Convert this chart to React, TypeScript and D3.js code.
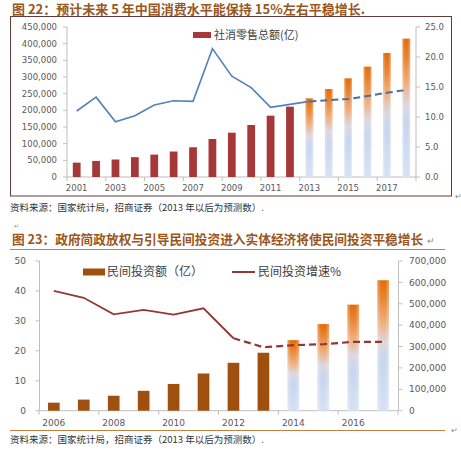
import React from "react";
import * as d3 from "d3";

// ---------- Chart 1 data ----------
const years1 = ["2001","2002","2003","2004","2005","2006","2007","2008","2009","2010","2011","2012","2013","2014","2015","2016","2017","2018"];
const retailSales = [43055, 48136, 52516, 59501, 67177, 76410, 89210, 114000, 133000, 156000, 184000, 211000, 236000, 264000, 296000, 331000, 372000, 415000];
const retailGrowth = [11.0, 13.3, 9.2, 10.2, 12.0, 12.7, 12.6, 21.4, 16.8, 14.9, 11.6, 12.1, 12.6, 12.8, 13.0, 13.5, 14.05, 14.5];
const forecastIdx1 = 12; // 2013 onwards forecast
const leftTicks1 = [0, 50000, 100000, 150000, 200000, 250000, 300000, 350000, 400000, 450000];
const rightTicks1 = [0, 5, 10, 15, 20, 25];
const xLabels1 = ["2001","2003","2005","2007","2009","2011","2013","2015","2017"];

// ---------- Chart 2 data ----------
const years2 = ["2006","2007","2008","2009","2010","2011","2012","2013","2014","2015","2016","2017"];
const privateInvest = [37500, 52000, 70000, 93000, 125000, 174000, 224000, 271000, 330000, 405000, 496000, 610000];
const investGrowth = [40.0, 37.7, 32.2, 33.7, 32.1, 34.2, 24.2, 21.2, 21.9, 22.2, 23.0, 23.0];
const forecastBarIdx2 = 8; // 2014 onwards
const dashLineIdx2 = 6; // dashed from 2012
const leftTicks2 = [0, 10, 20, 30, 40, 50];
const rightTicks2 = [0, 100000, 200000, 300000, 400000, 500000, 600000, 700000];
const xLabels2 = ["2006","2008","2010","2012","2014","2016"];

const title1 = "图 22：预计未来 5 年中国消费水平能保持 15%左右平稳增长.";
const title2 = "图 23：政府简政放权与引导民间投资进入实体经济将使民间投资平稳增长";
const sourceText = "资料来源：国家统计局，招商证券（2013 年以后为预测数）.";
const legend1 = "社消零售总额(亿)";
const legend2a = "民间投资额（亿）";
const legend2b = "民间投资增速%";

const CJK = "'Noto Sans CJK SC', sans-serif";
const NUM = "'DejaVu Sans', sans-serif";
const AX = "#BFBFBF";
const TXT = "#595959";

function Chart1() {
  const x = d3.scaleBand<string>().domain(years1).range([67, 416]).paddingInner(0.6).paddingOuter(0.3);
  const yL = d3.scaleLinear().domain([0, 450000]).range([177, 27]);
  const yR = d3.scaleLinear().domain([0, 25]).range([177, 27]);
  const cx = (i: number) => (x(years1[i]) as number) + x.bandwidth() / 2;
  const step = (416 - 67) / years1.length;
  const line = d3.line<number>().x((_, i) => 0).y(() => 0);
  const solidPts = retailGrowth.slice(0, forecastIdx1 + 1).map((v, i) => [cx(i), yR(v)] as [number, number]);
  const dashPts = retailGrowth.slice(forecastIdx1).map((v, i) => [cx(i + forecastIdx1), yR(v)] as [number, number]);
  const lg = d3.line();
  return (
    <g>
      <rect x={10.5} y={16.5} width={441} height={179.5} fill="none" stroke="#5E3C3C" strokeWidth={1} />
      {/* left axis */}
      <line x1={67} x2={67} y1={27} y2={177} stroke={AX} />
      {leftTicks1.map((t) => (
        <g key={t}>
          <line x1={63} x2={67} y1={yL(t)} y2={yL(t)} stroke={AX} />
          <text x={57} y={yL(t)} dy="0.35em" textAnchor="end" fontSize={8.5} fontFamily={NUM} fill={TXT}>
            {d3.format(",")(t)}
          </text>
        </g>
      ))}
      {/* right axis */}
      <line x1={416} x2={416} y1={27} y2={177} stroke={AX} />
      {rightTicks1.map((t) => (
        <g key={t}>
          <line x1={416} x2={420} y1={yR(t)} y2={yR(t)} stroke={AX} />
          <text x={425} y={yR(t)} dy="0.35em" fontSize={8.5} fontFamily={NUM} fill={TXT}>
            {d3.format(".1f")(t)}
          </text>
        </g>
      ))}
      {/* bottom axis */}
      <line x1={67} x2={416} y1={177} y2={177} stroke={AX} />
      {d3.range(0, years1.length + 1, 2).map((k) => (
        <line key={k} x1={67 + k * step} x2={67 + k * step} y1={177} y2={181} stroke={AX} />
      ))}
      {xLabels1.map((lab) => (
        <text key={lab} x={(x(lab) as number) + x.bandwidth() / 2} y={191} textAnchor="middle" fontSize={8.5} fontFamily={NUM} fill={TXT}>
          {lab}
        </text>
      ))}
      {/* bars */}
      {retailSales.map((v, i) => {
        const bx = x(years1[i]) as number;
        const fc = i >= forecastIdx1;
        return (
          <g key={i}>
            <rect x={bx} y={yL(v)} width={x.bandwidth()} height={177 - yL(v)} fill={fc ? "url(#fcGrad)" : "#A6383A"} />
            {fc && <rect x={bx} y={yL(v)} width={x.bandwidth()} height={177 - yL(v)} fill="url(#edgeGrad)" />}
          </g>
        );
      })}
      {/* growth line */}
      <path d={lg(solidPts) || ""} fill="none" stroke="#5581BA" strokeWidth={1.6} />
      <path d={lg(dashPts) || ""} fill="none" stroke="#4C6E9E" strokeWidth={2} strokeDasharray="7,4" />
      {/* legend */}
      <rect x={193} y={32} width={18} height={6} fill="#A6383A" />
      <text x={214} y={39} fontSize={11} fontFamily={CJK} fill="#404040">{legend1}</text>
    </g>
  );
}

function Chart2() {
  const x = d3.scaleBand<string>().domain(years2).range([39, 398]).paddingInner(0.61).paddingOuter(0.3);
  const yL = d3.scaleLinear().domain([0, 50]).range([410.7, 261]);
  const yR = d3.scaleLinear().domain([0, 700000]).range([410.7, 261]);
  const cx = (i: number) => (x(years2[i]) as number) + x.bandwidth() / 2;
  const step = (398 - 39) / years2.length;
  const lg = d3.line();
  const solidPts = investGrowth.slice(0, dashLineIdx2 + 1).map((v, i) => [cx(i), yL(v)] as [number, number]);
  const dashPts = investGrowth.slice(dashLineIdx2).map((v, i) => [cx(i + dashLineIdx2), yL(v)] as [number, number]);
  return (
    <g>
      {/* left axis */}
      <line x1={39.5} x2={39.5} y1={261} y2={410.7} stroke={AX} />
      {leftTicks2.map((t) => (
        <g key={t}>
          <line x1={35.5} x2={39.5} y1={yL(t)} y2={yL(t)} stroke={AX} />
          <text x={26} y={yL(t)} dy="0.35em" textAnchor="end" fontSize={9} fontFamily={NUM} fill={TXT}>{t}</text>
        </g>
      ))}
      {/* right axis */}
      <line x1={398.5} x2={398.5} y1={261} y2={410.7} stroke={AX} />
      {rightTicks2.map((t) => (
        <g key={t}>
          <line x1={398.5} x2={402.5} y1={yR(t)} y2={yR(t)} stroke={AX} />
          <text x={409} y={yR(t)} dy="0.35em" fontSize={9} fontFamily={NUM} fill={TXT}>{d3.format(",")(t)}</text>
        </g>
      ))}
      {/* bottom axis */}
      <line x1={39} x2={398} y1={410.7} y2={410.7} stroke={AX} />
      {d3.range(0, years2.length + 1, 2).map((k) => (
        <line key={k} x1={39 + k * step} x2={39 + k * step} y1={410.7} y2={414.7} stroke={AX} />
      ))}
      {xLabels2.map((lab) => (
        <text key={lab} x={(x(lab) as number) + x.bandwidth() / 2} y={426} textAnchor="middle" fontSize={9} fontFamily={NUM} fill={TXT}>{lab}</text>
      ))}
      {/* bars */}
      {privateInvest.map((v, i) => {
        const bx = x(years2[i]) as number;
        const fc = i >= forecastBarIdx2;
        return (
          <g key={i}>
            <rect x={bx} y={yR(v)} width={x.bandwidth()} height={410.7 - yR(v)} fill={fc ? "url(#fcGrad)" : "#A0500E"} />
            {fc && <rect x={bx} y={yR(v)} width={x.bandwidth()} height={410.7 - yR(v)} fill="url(#edgeGrad)" />}
          </g>
        );
      })}
      {/* line */}
      <path d={lg(solidPts) || ""} fill="none" stroke="#953735" strokeWidth={1.8} />
      <path d={lg(dashPts) || ""} fill="none" stroke="#953735" strokeWidth={2.2} strokeDasharray="7,4" />
      {/* legend */}
      <rect x={83} y={268.5} width={22} height={7} fill="#A0500E" />
      <text x={107} y={276} fontSize={12} fontFamily={CJK} fill="#404040">{legend2a}</text>
      <line x1={232} x2={255} y1={272} y2={272} stroke="#953735" strokeWidth={2} />
      <text x={258} y={276} fontSize={12} fontFamily={CJK} fill="#404040">{legend2b}</text>
    </g>
  );
}

export default function App() {
  return (
    <div style={{ position: "absolute", left: 0, top: 0, width: 461, height: 453, background: "#fff" }}>
      <svg width={461} height={453} viewBox="0 0 461 453">
        <defs>
          <linearGradient id="fcGrad" x1="0" y1="0" x2="0" y2="1">
            <stop offset="0" stopColor="#E46C0A" />
            <stop offset="0.12" stopColor="#E8812C" />
            <stop offset="0.32" stopColor="#EFAE7C" />
            <stop offset="0.48" stopColor="#DCD8E2" />
            <stop offset="0.62" stopColor="#C8D6EE" />
            <stop offset="1" stopColor="#D6E2F4" />
          </linearGradient>
          <linearGradient id="edgeGrad" x1="0" y1="0" x2="1" y2="0">
            <stop offset="0" stopColor="#fff" stopOpacity={0.35} />
            <stop offset="0.3" stopColor="#fff" stopOpacity={0} />
            <stop offset="0.7" stopColor="#fff" stopOpacity={0} />
            <stop offset="1" stopColor="#fff" stopOpacity={0.35} />
          </linearGradient>
        </defs>
        <rect width={461} height={453} fill="#fff" />
        <text x={12} y={13.5} fontSize={13} fontWeight="bold" fontFamily={CJK} fill="#9A561C">{title1}</text>
        <Chart1 />
        <text x={455} y={199} fontSize={8} fontFamily={CJK} fill="#888">↵</text>
        <text x={10} y={211} fontSize={9.5} fontFamily={CJK} fill="#333">{sourceText}</text>
        <text x={12} y={228} fontSize={6} fontFamily={CJK} fill="#888">.↵</text>
        <text x={12} y={244} fontSize={12.7} fontWeight="bold" fontFamily={CJK} fill="#9A561C">{title2}</text>
        <text x={427} y={244} fontSize={9} fontFamily={CJK} fill="#888">↵</text>
        <line x1={10} x2={445} y1={249.5} y2={249.5} stroke="#C08040" strokeWidth={1} />
        <Chart2 />
        <line x1={10} x2={445} y1={430.5} y2={430.5} stroke="#C08040" strokeWidth={1} />
        <text x={451} y={433} fontSize={8} fontFamily={CJK} fill="#888">↵</text>
        <text x={10} y={443} fontSize={9.5} fontFamily={CJK} fill="#333">{sourceText}</text>
      </svg>
    </div>
  );
}
